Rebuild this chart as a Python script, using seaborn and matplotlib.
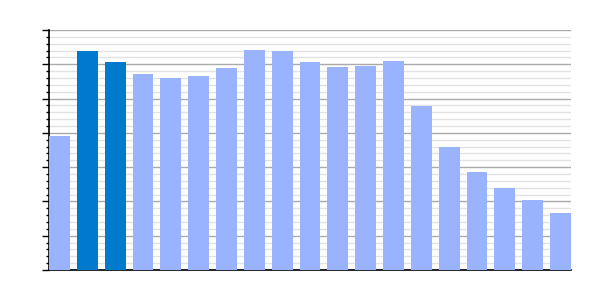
import matplotlib
matplotlib.use("Agg")
import matplotlib.pyplot as plt
import seaborn as sns
import pandas as pd
from matplotlib.ticker import MultipleLocator, NullFormatter

categories = [f"c{i+1}" for i in range(19)]
values = [39.2, 63.8, 60.8, 57.3, 55.9, 56.5, 58.8, 64.1, 63.8, 60.6,
          59.1, 59.4, 61.1, 47.7, 36.0, 28.7, 23.8, 20.3, 16.7]
highlight = [False, True, True] + [False] * 16

LIGHT = "#99b3ff"
DARK = "#007acc"

df = pd.DataFrame({"cat": categories, "val": values,
                   "grp": ["hi" if h else "lo" for h in highlight]})

sns.set_style("white")
fig = plt.figure(figsize=(6, 3), dpi=100)
ax = fig.add_axes([49/600, 30/300, (571-49)/600, 240/300])

sns.barplot(data=df, x="cat", y="val", hue="grp", order=categories,
            palette={"hi": DARK, "lo": LIGHT}, dodge=False, width=0.75,
            saturation=1, legend=False, ax=ax, zorder=3,
            linewidth=0, edgecolor="none")

ax.set_xlim(-0.375, len(categories) - 1 + 0.375)
ax.set_ylim(0, 70)
ax.yaxis.set_major_locator(MultipleLocator(10))
ax.yaxis.set_minor_locator(MultipleLocator(2))
ax.yaxis.set_major_formatter(NullFormatter())
ax.set_xticks([])
ax.set_xlabel("")
ax.set_ylabel("")
ax.grid(axis="y", which="major", color="#aaaaaa", linewidth=1, zorder=0)
ax.grid(axis="y", which="minor", color="#e2e2e2", linewidth=1, zorder=0)
ax.set_axisbelow(True)
ax.tick_params(axis="y", which="major", length=5, width=1, color="black", left=True, direction="out")
ax.tick_params(axis="y", which="minor", length=2.5, width=1, color="black", left=True, direction="out")
for s in ["top", "right"]:
    ax.spines[s].set_visible(False)
for s in ["left", "bottom"]:
    ax.spines[s].set_color("black")
    ax.spines[s].set_linewidth(1.2)

fig.savefig("out.png", dpi=100)
